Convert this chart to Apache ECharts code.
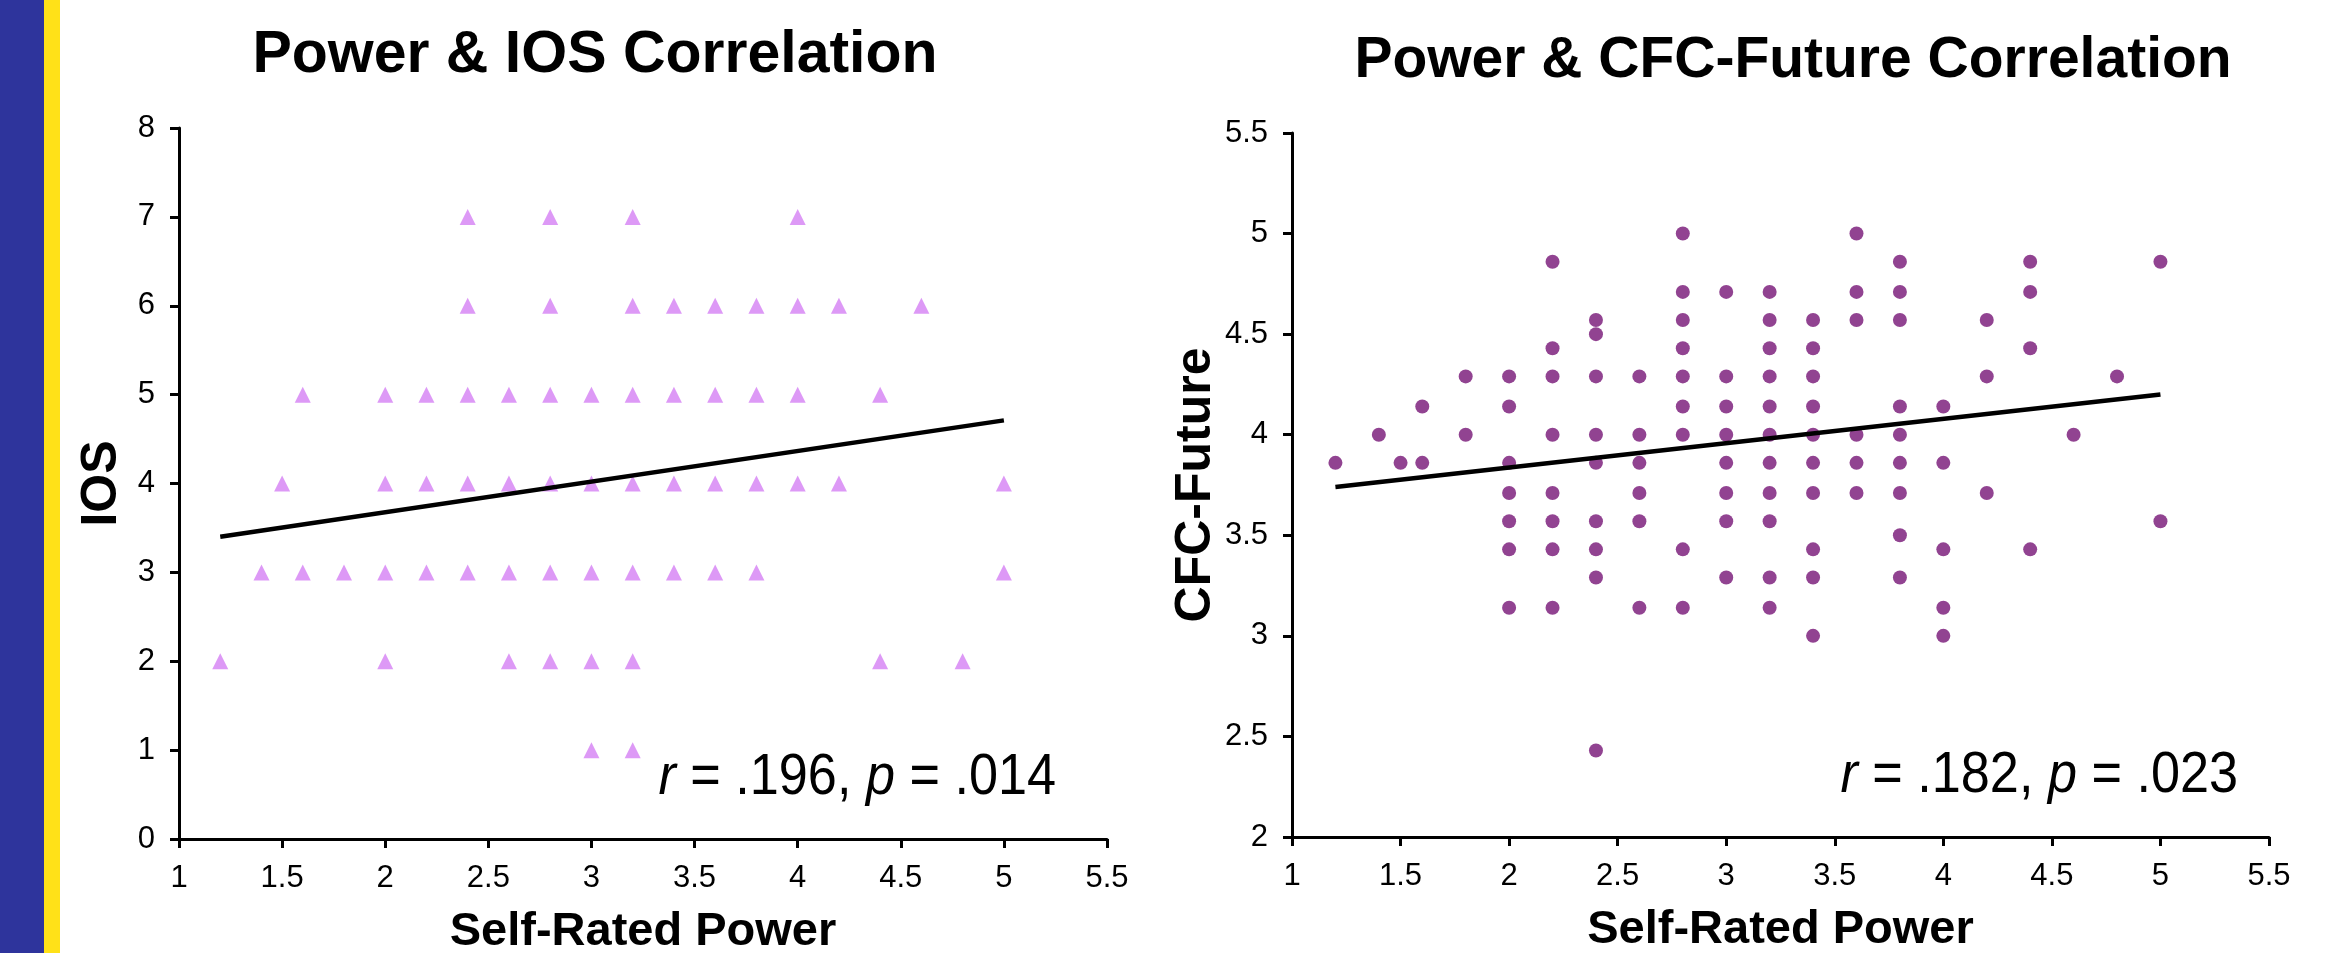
<!DOCTYPE html>
<html>
<head>
<meta charset="utf-8">
<title>Power correlations</title>
<script src="https://cdn.jsdelivr.net/npm/echarts/dist/echarts.min.js"></script>
<style>
  html, body { margin: 0; padding: 0; background: #fff; }
  #chart { width: 2327px; height: 953px; }
</style>
</head>
<body>
<div id="chart"></div>
<script>
// 刻度
const powerTicks = [1, 5.5, 0.5]
const iosTicks = [0, 8, 1]
const cfcTicks = [2, 5.5, 0.5]

// Power & IOS 散点 (x = self-rated power, y = IOS)
const iosPower = [
  2.4, 2.8, 3.2, 4.0,
  2.4, 2.8, 3.2, 3.4, 3.6, 3.8, 4.0, 4.2, 4.6,
  1.6, 2.0, 2.2, 2.4, 2.6, 2.8, 3.0, 3.2, 3.4, 3.6, 3.8, 4.0, 4.4,
  1.5, 2.0, 2.2, 2.4, 2.6, 2.8, 3.0, 3.2, 3.4, 3.6, 3.8, 4.0, 4.2, 5.0,
  1.4, 1.6, 1.8, 2.0, 2.2, 2.4, 2.6, 2.8, 3.0, 3.2, 3.4, 3.6, 3.8, 5.0,
  1.2, 2.0, 2.6, 2.8, 3.0, 3.2, 4.4, 4.8,
  3.0, 3.2
]
const iosScore = [
  7, 7, 7, 7,
  6, 6, 6, 6, 6, 6, 6, 6, 6,
  5, 5, 5, 5, 5, 5, 5, 5, 5, 5, 5, 5, 5,
  4, 4, 4, 4, 4, 4, 4, 4, 4, 4, 4, 4, 4, 4,
  3, 3, 3, 3, 3, 3, 3, 3, 3, 3, 3, 3, 3, 3,
  2, 2, 2, 2, 2, 2, 2, 2,
  1, 1
]
const iosTrendX = [1.2, 5.0]
const iosTrendY = [3.40, 4.71]

// Power & CFC-Future 散点
const cfcPower = [
  1.2,
  1.4,
  1.5,
  1.6, 1.6,
  1.8, 1.8,
  2.0, 2.0, 2.0, 2.0, 2.0, 2.0, 2.0,
  2.2, 2.2, 2.2, 2.2, 2.2, 2.2, 2.2, 2.2,
  2.4, 2.4, 2.4, 2.4, 2.4, 2.4, 2.4, 2.4, 2.4,
  2.6, 2.6, 2.6, 2.6, 2.6, 2.6,
  2.8, 2.8, 2.8, 2.8, 2.8, 2.8, 2.8, 2.8, 2.8,
  3.0, 3.0, 3.0, 3.0, 3.0, 3.0, 3.0, 3.0,
  3.2, 3.2, 3.2, 3.2, 3.2, 3.2, 3.2, 3.2, 3.2, 3.2, 3.2,
  3.4, 3.4, 3.4, 3.4, 3.4, 3.4, 3.4, 3.4, 3.4, 3.4,
  3.6, 3.6, 3.6, 3.6, 3.6, 3.6,
  3.8, 3.8, 3.8, 3.8, 3.8, 3.8, 3.8, 3.8, 3.8,
  4.0, 4.0, 4.0, 4.0, 4.0,
  4.2, 4.2, 4.2,
  4.4, 4.4, 4.4, 4.4,
  4.6,
  4.8,
  5.0, 5.0
]
const cfcScore = [
  3.86,
  4,
  3.86,
  4.14, 3.86,
  4.29, 4,
  4.29, 4.14, 3.86, 3.71, 3.57, 3.43, 3.14,
  4.86, 4.43, 4.29, 4, 3.71, 3.57, 3.43, 3.14,
  4.57, 4.5, 4.29, 4, 3.86, 3.57, 3.43, 3.29, 2.43,
  4.29, 4, 3.86, 3.71, 3.57, 3.14,
  5, 4.71, 4.57, 4.43, 4.29, 4.14, 4, 3.43, 3.14,
  4.71, 4.29, 4.14, 4, 3.86, 3.71, 3.57, 3.29,
  4.71, 4.57, 4.43, 4.29, 4.14, 4, 3.86, 3.71, 3.57, 3.29, 3.14,
  4.57, 4.43, 4.29, 4.14, 4, 3.86, 3.71, 3.43, 3.29, 3,
  5, 4.71, 4.57, 4, 3.86, 3.71,
  4.86, 4.71, 4.57, 4.14, 4, 3.86, 3.71, 3.5, 3.29,
  4.14, 3.86, 3.43, 3.14, 3,
  4.57, 4.29, 3.71,
  4.86, 4.71, 4.43, 3.43,
  4,
  4.29,
  4.86, 3.57
]
const cfcTrendX = [1.2, 5.0]
const cfcTrendY = [3.74, 4.20]

const FONT = '"Liberation Sans", Arial, sans-serif'
const zip = (xs, ys) => xs.map((x, i) => [x, ys[i]])

// 坐标轴公共样式
function valueAxis (gridIndex, ticks, name, nameGap, nameSize, extra) {
  return Object.assign({
    type: 'value',
    gridIndex: gridIndex,
    min: ticks[0],
    max: ticks[1],
    interval: ticks[2],
    name: name,
    nameLocation: 'middle',
    nameGap: nameGap,
    nameTextStyle: {
      color: '#000',
      fontFamily: FONT,
      fontWeight: 'bold',
      fontSize: nameSize,
      verticalAlign: 'middle'
    },
    axisLine: {show: true, lineStyle: {color: '#000', width: 3}},
    axisTick: {show: true, inside: false, length: 9, lineStyle: {color: '#000', width: 3}},
    axisLabel: {color: '#000', fontFamily: FONT, fontSize: 31, margin: 24},
    splitLine: {show: false}
  }, extra || {})
}

function trendLine (xAxisIndex, xs, ys) {
  return {
    type: 'line',
    xAxisIndex: xAxisIndex,
    yAxisIndex: xAxisIndex,
    data: zip(xs, ys),
    symbol: 'none',
    z: 5,
    lineStyle: {color: '#000', width: 4.5},
    silent: true
  }
}

function statText (x, y, r, p) {
  return {
    type: 'text',
    x: x,
    y: y,
    scaleX: 0.9,
    z: 10,
    style: {
      text: '{i|r} = ' + r + ', {i|p} = ' + p,
      font: '58px ' + FONT,
      fill: '#000',
      align: 'right',
      verticalAlign: 'middle',
      textAlign: 'right',
      textVerticalAlign: 'middle',
      rich: {
        i: {font: 'italic 58px ' + FONT, fill: '#000'}
      }
    }
  }
}

const option = {
  animation: false,
  backgroundColor: '#fff',
  title: [
    {
      text: 'Power & IOS Correlation',
      left: 595,
      top: 26,
      padding: 0,
      textAlign: 'center',
      textStyle: {color: '#000', fontFamily: FONT, fontWeight: 'bold', fontSize: 59}
    },
    {
      text: 'Power & CFC-Future Correlation',
      left: 1793,
      top: 33,
      padding: 0,
      textAlign: 'center',
      textStyle: {color: '#000', fontFamily: FONT, fontWeight: 'bold', fontSize: 57}
    }
  ],
  grid: [
    {left: 179, top: 128, width: 928, height: 711, containLabel: false, outerBoundsMode: 'none'},
    {left: 1292, top: 133, width: 977, height: 704, containLabel: false, outerBoundsMode: 'none'}
  ],
  xAxis: [
    valueAxis(0, powerTicks, 'Self-Rated Power', 93, 47),
    valueAxis(1, powerTicks, 'Self-Rated Power', 93, 47)
  ],
  yAxis: [
    valueAxis(0, iosTicks, 'IOS', 77, 50, {nameRotate: 90}),
    valueAxis(1, cfcTicks, 'CFC-Future', 91, 50, {nameRotate: 90})
  ],
  series: [
    {
      type: 'scatter',
      xAxisIndex: 0,
      yAxisIndex: 0,
      data: zip(iosPower, iosScore),
      symbol: 'triangle',
      symbolSize: 16,
      itemStyle: {color: '#D47FF4'}
    },
    trendLine(0, iosTrendX, iosTrendY),
    {
      type: 'scatter',
      xAxisIndex: 1,
      yAxisIndex: 1,
      data: zip(cfcPower, cfcScore),
      symbol: 'circle',
      symbolSize: 14,
      itemStyle: {color: '#761476'}
    },
    trendLine(1, cfcTrendX, cfcTrendY)
  ],
  graphic: [
    // 左侧装饰条
    {type: 'rect', z: -1, shape: {x: 0, y: 0, width: 44, height: 953}, style: {fill: '#2E349C'}},
    {type: 'rect', z: -1, shape: {x: 44, y: 0, width: 16, height: 953}, style: {fill: '#FFE118'}},
    statText(1056, 778, '.196', '.014'),
    statText(2238, 776, '.182', '.023')
  ]
}

const chart = echarts.init(document.getElementById('chart'))
chart.setOption(option)
</script>
</body>
</html>
